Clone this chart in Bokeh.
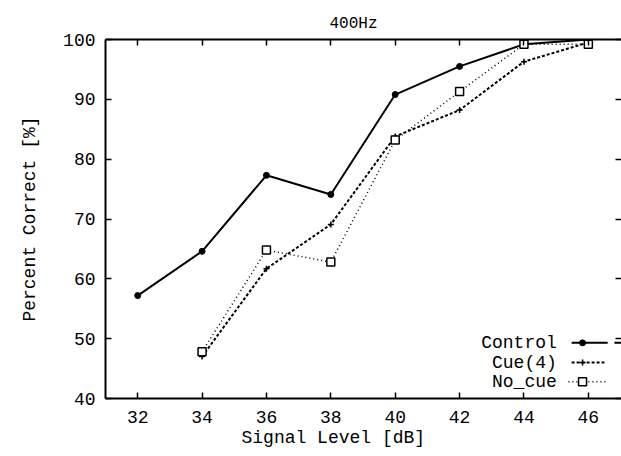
from bokeh.plotting import figure
from bokeh.models import LinearAxis, FixedTicker, Range1d, Title
from bokeh.embed import file_html
from bokeh.resources import INLINE
from bokeh.core.properties import value

# Percent correct vs. signal level, 400 Hz tone
levels_control = [32, 34, 36, 38, 40, 42, 44, 46]
control = [57.2, 64.6, 77.3, 74.1, 90.8, 95.5, 99.2, 100.0]

levels_cue = [34, 36, 38, 40, 42, 44, 46]
cue4 = [47.0, 61.7, 69.1, 83.8, 88.2, 96.3, 99.5]

levels_nocue = [34, 36, 38, 40, 42, 44, 46]
no_cue = [47.8, 64.8, 62.8, 83.2, 91.3, 99.2, 99.2]

x_ticks = [32, 34, 36, 38, 40, 42, 44, 46]
y_ticks = [40, 50, 60, 70, 80, 90, 100]

FONT = "Liberation Mono"
FS = "18px"

p = figure(width=621, height=456, x_range=Range1d(31, 47.03), y_range=Range1d(40, 100),
           output_backend="svg", toolbar_location=None,
           min_border_left=105, min_border_right=0, min_border_top=39, min_border_bottom=58,
           outline_line_color=None, background_fill_color="white", border_fill_color="white")

p.xgrid.visible = False
p.ygrid.visible = False

def style_axis(ax, labels=True):
    ax.axis_line_color = "black"
    ax.axis_line_width = 2
    ax.major_tick_line_color = "black"
    ax.major_tick_line_width = 1.5
    ax.major_tick_in = 6
    ax.major_tick_out = 0
    ax.minor_tick_line_color = None
    ax.major_label_text_font = FONT
    ax.major_label_text_color = "black"
    if labels:
        ax.major_label_text_font_size = FS
    else:
        # tick marks only, no numbers
        ax.major_label_text_font_size = "1px"
        ax.major_label_text_color = None
        ax.major_label_standoff = 0

# bottom / left axes
xa = p.xaxis[0]
xa.ticker = FixedTicker(ticks=x_ticks)
style_axis(xa)
xa.major_label_standoff = 12

ya = p.yaxis[0]
ya.ticker = FixedTicker(ticks=y_ticks)
style_axis(ya)
ya.major_label_standoff = 10
ya.axis_label = "Percent Correct [%]"
ya.axis_label_text_font = FONT
ya.axis_label_text_font_size = FS
ya.axis_label_text_font_style = "normal"
ya.axis_label_text_color = "black"
ya.axis_label_standoff = 20

# mirrored ticks on top and right
top = LinearAxis(ticker=FixedTicker(ticks=x_ticks))
style_axis(top, labels=False)
p.add_layout(top, "above")

right = LinearAxis(ticker=FixedTicker(ticks=y_ticks))
style_axis(right, labels=False)
right.axis_line_color = None
p.add_layout(right, "right")

# x axis title and plot title
p.add_layout(Title(text="Signal Level [dB]", align="left", offset=136,
                   text_font=FONT, text_font_size=FS, text_font_style="normal",
                   text_color="black", standoff=0), "below")
p.title.text = "400Hz"
p.title.align = "left"
p.title.offset = 224
p.title.standoff = 14
p.title.text_font = FONT
p.title.text_font_size = "16px"
p.title.text_font_style = "normal"
p.title.text_color = "black"

# data series
p.line(levels_control, control, line_color="black", line_width=2)
p.scatter(levels_control, control, marker="circle", size=6, color="black")

p.line(levels_cue, cue4, line_color="black", line_width=2, line_dash="3 2")
p.scatter(levels_cue, cue4, marker="cross", size=6, line_color="black", line_width=1.5)

p.line(levels_nocue, no_cue, line_color="black", line_width=1.5, line_dash="1 3")
p.scatter(levels_nocue, no_cue, marker="square", size=8, line_color="black",
          fill_color="white", line_width=1.5)

# key: text on the left, line sample on the right
key_names = ["Control", "Cue(4)", "No_cue"]
key_y = [49.3, 46.0, 42.8]
key_text_x = 45.02
key_x0, key_x1, key_mark = 45.48, 46.6, 45.82

p.text(x=[key_text_x] * 3, y=key_y, text=key_names, text_align="right",
       text_baseline="middle", text_font=value(FONT), text_font_size=FS, text_color="black")

p.line([key_x0, key_x1], [key_y[0]] * 2, line_color="black", line_width=2)
p.line([46.81, 47.03], [key_y[0]] * 2, line_color="black", line_width=2)
p.scatter([key_mark], [key_y[0]], marker="circle", size=6, color="black")

p.line([key_x0, key_x1 - 0.1], [key_y[1]] * 2, line_color="black", line_width=2, line_dash="3 2")
p.scatter([key_mark], [key_y[1]], marker="cross", size=6, line_color="black", line_width=1.5)

p.line([key_x0 - 0.1, key_x1], [key_y[2]] * 2, line_color="black", line_width=1.5, line_dash="1 3")
p.scatter([key_mark], [key_y[2]], marker="square", size=8, line_color="black",
          fill_color="white", line_width=1.5)

open("out.html", "w").write(file_html(p, INLINE))
